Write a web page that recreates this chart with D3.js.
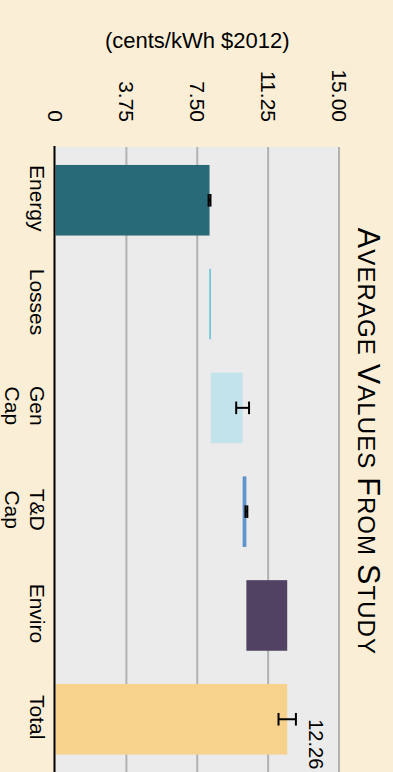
<!DOCTYPE html>
<html>
<head>
<meta charset="utf-8">
<script src="https://cdn.jsdelivr.net/npm/d3@7"></script>
<style>
  html, body { margin: 0; padding: 0; background: #faefd6; }
  svg { display: block; }
  text { font-family: "Liberation Sans", Arial, Helvetica, sans-serif; fill: #000; }
</style>
</head>
<body>
<svg id="chart" width="393" height="772"></svg>
<script>
// Cost components of the waterfall (cents/kWh, $2012)
const categories = ["Energy", "Losses", "Gen Cap", "T&D Cap", "Enviro", "Total"];
const values     = [8.15, 0.07, 1.68, 0.20, 2.16, 12.26];
const errors     = [0.05, null, 0.34, 0.05, null, 0.46];
const colors     = ["#296a79", "#5cc1d9", "#c3e3ec", "#5f95cc", "#514162", "#f7d28d"];
const tickValues = [0, 3.75, 7.5, 11.25, 15];
const tickLabels = ["0", "3.75", "7.50", "11.25", "15.00"];
const valueLabel = "12.26";

const svg = d3.select("#chart");
// the chart is laid out in a 772 x 393 frame and turned a quarter turn onto the page
const g = svg.append("g").attr("transform", "translate(393,0) rotate(90)");

const plot = { left: 147, right: 772.5, top: 54, bottom: 337.5 };

const x = d3.scaleBand()
  .domain(categories)
  .range([plot.left, plot.right])
  .paddingInner(0.32)
  .paddingOuter(0.173);

const y = d3.scaleLinear().domain([0, 15]).range([plot.bottom, plot.top]);

// running totals: each step floats on the one before it, the last bar starts at zero
let run = 0;
const bars = categories.map((c, i) => {
  const last = i === categories.length - 1;
  const start = last ? 0 : run;
  const end = last ? values[i] : run + values[i];
  if (!last) run = end;
  return { c, start, end, err: errors[i], color: colors[i] };
});

// plot background
g.append("rect")
  .attr("x", plot.left).attr("y", plot.top)
  .attr("width", plot.right - plot.left).attr("height", plot.bottom - plot.top)
  .attr("fill", "#ebebeb");

// grid lines
g.selectAll("line.grid")
  .data(tickValues.filter(d => d > 0))
  .join("line")
  .attr("class", "grid")
  .attr("x1", plot.left).attr("x2", plot.right)
  .attr("y1", d => y(d)).attr("y2", d => y(d))
  .attr("stroke", "#b2b2b2").attr("stroke-width", 2);

// bars
g.selectAll("rect.bar")
  .data(bars)
  .join("rect")
  .attr("class", "bar")
  .attr("x", d => x(d.c))
  .attr("width", x.bandwidth())
  .attr("y", d => y(d.end))
  .attr("height", d => Math.max(1.5, y(d.start) - y(d.end)))
  .attr("fill", d => d.color);

// error bars at the top of each step
const capHalf = 6.3;
const eb = g.selectAll("g.err")
  .data(bars.filter(d => d.err != null))
  .join("g")
  .attr("class", "err")
  .attr("transform", d => `translate(${x(d.c) + x.bandwidth() / 2},0)`);
eb.append("line")
  .attr("y1", d => y(d.end - d.err)).attr("y2", d => y(d.end + d.err))
  .attr("stroke", "#000").attr("stroke-width", 2);
eb.append("line")
  .attr("x1", -capHalf).attr("x2", capHalf)
  .attr("y1", d => y(d.end - d.err)).attr("y2", d => y(d.end - d.err))
  .attr("stroke", "#000").attr("stroke-width", 2);
eb.append("line")
  .attr("x1", -capHalf).attr("x2", capHalf)
  .attr("y1", d => y(d.end + d.err)).attr("y2", d => y(d.end + d.err))
  .attr("stroke", "#000").attr("stroke-width", 2);

// zero baseline
g.append("line")
  .attr("x1", plot.left - 1).attr("x2", plot.right)
  .attr("y1", y(0) + 1).attr("y2", y(0) + 1)
  .attr("stroke", "#000").attr("stroke-width", 2);

// value axis
const yAxis = d3.axisLeft(y)
  .tickValues(tickValues)
  .tickFormat((d, i) => tickLabels[i])
  .tickSize(0)
  .tickPadding(25);
const ya = g.append("g").attr("transform", `translate(${plot.left},0)`).call(yAxis);
ya.select(".domain").remove();
ya.selectAll("text")
  .attr("font-size", 21)
  .attr("font-family", "Liberation Sans, Arial, sans-serif")
  .attr("fill", "#000");

// axis title
g.append("text")
  .attr("transform", `translate(48,${(plot.top + plot.bottom) / 2}) rotate(-90)`)
  .attr("text-anchor", "middle")
  .attr("font-size", 22)
  .text("(cents/kWh $2012)");

// category labels, two words go on two lines
const labelX = d => x(d) + x.bandwidth() / 2 - 2;
const cl = g.selectAll("text.cat")
  .data(categories)
  .join("text")
  .attr("class", "cat")
  .attr("text-anchor", "middle")
  .attr("font-size", 21)
  .attr("x", labelX)
  .attr("y", 363);
cl.each(function (d) {
  const t = d3.select(this);
  d.split(" ").forEach((w, k) => {
    t.append("tspan")
      .attr("x", labelX(d))
      .attr("dy", k === 0 ? 0 : 25.5)
      .text(w);
  });
});

// total value label
const total = bars[bars.length - 1];
g.append("text")
  .attr("x", x(total.c) + x.bandwidth() / 2)
  .attr("y", y(total.end) - 22)
  .attr("font-size", 20)
  .text(valueLabel);

// title in small capitals
const title = g.append("text")
  .attr("x", 441.5)
  .attr("y", 35)
  .attr("text-anchor", "middle")
  .attr("letter-spacing", 1.1);
const titleParts = [["A", 30.5], ["VERAGE ", 24], ["V", 30.5], ["ALUES ", 24], ["F", 30.5], ["ROM ", 24], ["S", 30.5], ["TUDY", 24]];
titleParts.forEach(([s, size]) => title.append("tspan").attr("font-size", size).text(s));
</script>
</body>
</html>
